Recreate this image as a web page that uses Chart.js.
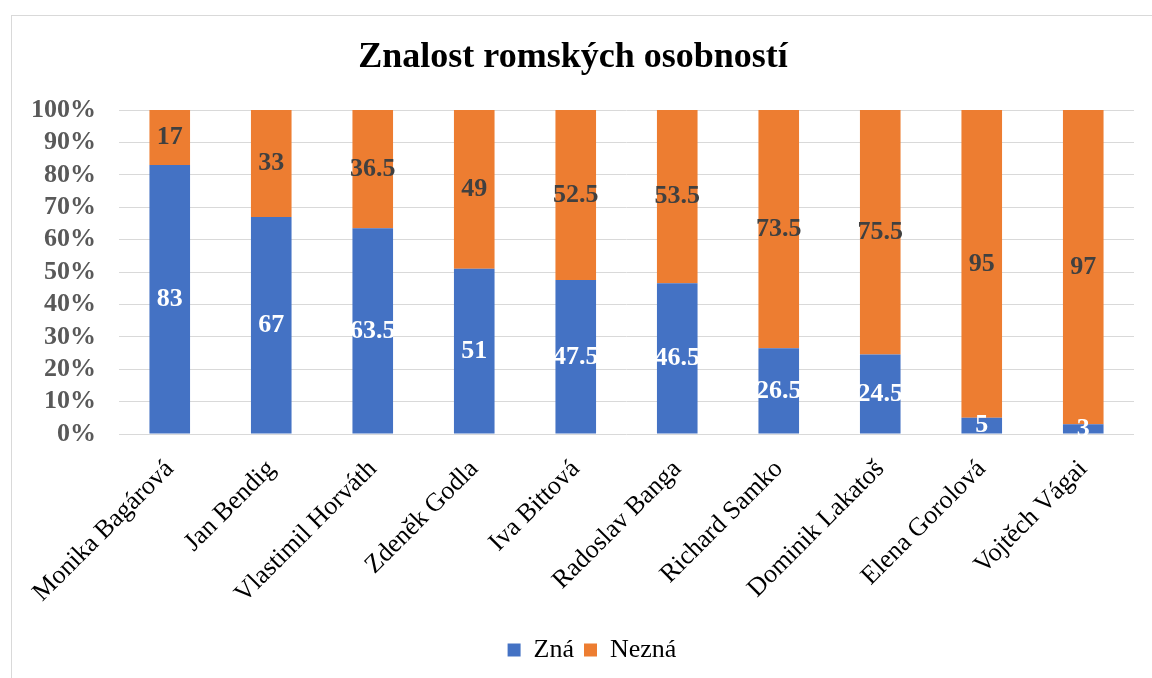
<!DOCTYPE html>
<html>
<head>
<meta charset="utf-8">
<script src="https://cdn.jsdelivr.net/npm/chart.js@4"></script>
<style>
  html, body { margin: 0; padding: 0; background: #fff; overflow: hidden; }
  #wrap { position: absolute; left: 11px; top: 15px; width: 1140px; height: 663px;
          border-left: 1px solid #d9d9d9; border-top: 1px solid #d9d9d9; }
  canvas { display: block; }
</style>
</head>
<body>
<div id="wrap"><canvas id="c" width="1140" height="662"></canvas></div>
<script>
const chartTitle = "Znalost romských osobností";
const categories = ["Monika Bagárová", "Jan Bendig", "Vlastimil Horváth", "Zdeněk Godla", "Iva Bittová",
  "Radoslav Banga", "Richard Samko", "Dominik Lakatoš", "Elena Gorolová", "Vojtěch Vágai"];
const seriesNames = ["Zná", "Nezná"];
const znaValues = [83, 67, 63.5, 51, 47.5, 46.5, 26.5, 24.5, 5, 3];
const neznaValues = [17, 33, 36.5, 49, 52.5, 53.5, 73.5, 75.5, 95, 97];
const yTicks = [0, 10, 20, 30, 40, 50, 60, 70, 80, 90, 100];

const FONT = "'Liberation Serif', 'Times New Roman', serif";

const valueLabels = {
  id: 'valueLabels',
  afterDatasetsDraw(chart) {
    const ctx = chart.ctx;
    ctx.save();
    ctx.font = "bold 26px " + FONT;
    ctx.textAlign = 'center';
    ctx.textBaseline = 'middle';
    chart.data.datasets.forEach((ds, di) => {
      const meta = chart.getDatasetMeta(di);
      ctx.fillStyle = di === 0 ? '#ffffff' : '#404040';
      meta.data.forEach((el, i) => {
        const v = ds.data[i];
        const y = (el.y + el.base) / 2;
        ctx.fillText(String(v), el.x, y);
      });
    });
    ctx.restore();
  }
};

const legendShift = {
  id: 'legendShift',
  afterLayout(chart) {
    if (chart.legend) { chart.legend.left += 19; chart.legend.right += 19; }
  }
};

new Chart(document.getElementById('c'), {
  type: 'bar',
  data: {
    labels: categories,
    datasets: [
      { label: seriesNames[0], data: znaValues, backgroundColor: '#4472C4',
        categoryPercentage: 1.0, barPercentage: 0.4 },
      { label: seriesNames[1], data: neznaValues, backgroundColor: '#ED7D31',
        categoryPercentage: 1.0, barPercentage: 0.4 }
    ]
  },
  options: {
    responsive: false,
    animation: false,
    layout: { padding: { left: 0, right: 18, top: 0, bottom: 5 } },
    plugins: {
      title: {
        display: true, text: chartTitle, color: '#000',
        font: { family: FONT, size: 36, weight: 'bold' },
        padding: { top: 20, bottom: 30.8 }
      },
      legend: {
        display: true, position: 'bottom',
        labels: {
          color: '#000', boxWidth: 13, boxHeight: 13, padding: 10,
          font: { family: FONT, size: 26 }
        }
      },
      tooltip: { enabled: false }
    },
    scales: {
      x: {
        stacked: true,
        grid: { display: false, drawTicks: false },
        border: { display: false },
        ticks: {
          autoSkip: false, minRotation: 45, maxRotation: 45, padding: 20,
          color: '#000', font: { family: FONT, size: 26 }
        },
        afterFit(s) { s.height = 193; }
      },
      y: {
        stacked: true, min: 0, max: 100,
        grid: { color: '#d9d9d9', lineWidth: 1, drawTicks: false },
        border: { display: false },
        afterBuildTicks(s) { s.ticks = yTicks.map(v => ({ value: v })); },
        ticks: {
          autoSkip: false, padding: 23, color: '#595959',
          font: { family: FONT, size: 26, weight: 'bold' },
          callback: v => v + '%'
        },
        afterFit(s) { s.width = 107; }
      }
    }
  },
  plugins: [valueLabels, legendShift]
});
</script>
</body>
</html>
